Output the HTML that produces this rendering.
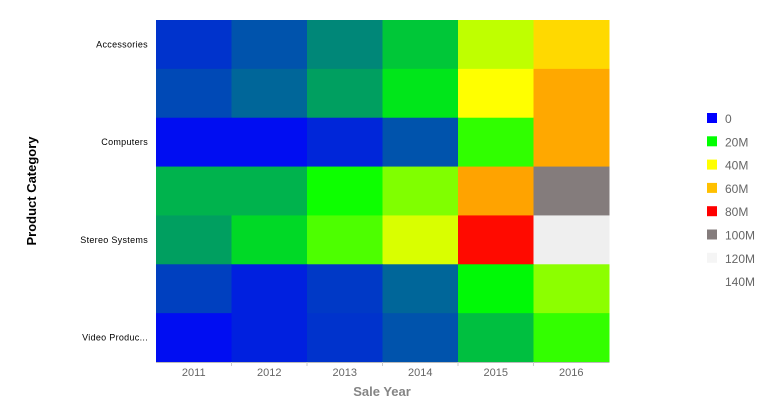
<!DOCTYPE html>
<html><head><meta charset="utf-8"><style>
body{margin:0;background:#fff;}
svg{display:block;font-family:"Liberation Sans",sans-serif;}
</style></head><body>
<svg id="chart" width="768" height="403" viewBox="0 0 768 403">
<g id="cells"></g>
<g id="xaxis"></g>
<g id="yaxis"></g>
<text x="382" y="396" text-anchor="middle" font-size="13" font-weight="bold" fill="#858585">Sale Year</text>
<text transform="translate(36,191) rotate(-90)" text-anchor="middle" font-size="13" font-weight="bold" fill="#000">Product Category</text>
<g id="legend"></g>
</svg>
<script>
const years = ["2011","2012","2013","2014","2015","2016"];
const categories = ["Accessories","Camcorders","Computers","Media Players","Stereo Systems","Televisions","Video Production"];
const categoryLabels = ["Accessories","","Computers","","Stereo Systems","","Video Produc..."];
const rowAccessories = [4, 6.5, 10.6, 15.6, 35, 52];
const rowCamcorders = [5.7, 8, 12.5, 18, 40, 62.5];
const rowComputers = [1, 1, 3, 6.5, 23.8, 62.5];
const rowMedia = [14, 14, 21, 30, 63, 100];
const rowStereo = [12.5, 17, 26, 37, 79, 119];
const rowTV = [5, 2.5, 4.5, 8, 19.5, 31];
const rowVideo = [1, 2.5, 4, 6.5, 15, 24];
const legendLabels = ["0","20M","40M","60M","80M","100M","120M","140M"];
const stopValues = [0,20,40,60,80,100,120,140];
const stopColors = [[0,0,255],[0,255,0],[255,255,0],[255,192,0],[255,0,0],[132,124,124],[245,245,245],[255,255,255]];
const values = [rowAccessories,rowCamcorders,rowComputers,rowMedia,rowStereo,rowTV,rowVideo];

const NS="http://www.w3.org/2000/svg";
const x0=156,x1=609,y0=20,y1=362;
const cw=(x1-x0)/years.length, rh=(y1-y0)/categories.length;
const xPos=i=>x0+i*cw, yPos=j=>y0+j*rh;
function color(v){
  for(let k=0;k<stopValues.length-1;k++){
    if(v<=stopValues[k+1]){
      const t=(v-stopValues[k])/(stopValues[k+1]-stopValues[k]);
      const a=stopColors[k],b=stopColors[k+1];
      return `rgb(${a.map((c,i)=>Math.round(c+(b[i]-c)*t)).join(',')})`;
    }
  }
  return "rgb(255,255,255)";
}
function mk(tag,attrs,parent){const e=document.createElementNS(NS,tag);for(const k in attrs)e.setAttribute(k,attrs[k]);parent.appendChild(e);return e;}
const cells=document.getElementById('cells');
values.forEach((row,j)=>row.forEach((v,i)=>{
  const r=mk('rect',{x:xPos(i),y:yPos(j),width:cw+0.5,height:rh+0.5,fill:color(v)},cells);
  
  
}));
const xa=document.getElementById('xaxis');
const al=mk('line',{x1:x0,x2:x1,y1:y1+0.5,y2:y1+0.5,stroke:'#bbb'},xa);


years.forEach((y,i)=>{
  const t=mk('text',{x:xPos(i)+cw/2,y:376,'text-anchor':'middle','font-size':11,fill:'#666'},xa);
  t.textContent=y;
  
  
  if(i>0){const tk=mk('line',{x1:xPos(i),x2:xPos(i),y1:y1,y2:y1+4,stroke:'#ccc'},xa);
  
  }
});
const ya=document.getElementById('yaxis');
categoryLabels.forEach((c,j)=>{
  if(!c)return;
  const t=mk('text',{x:148,y:yPos(j)+rh/2+3,'text-anchor':'end','font-size':9,fill:'#000','letter-spacing':'0.3'},ya);
  t.textContent=c;
  
  
});
const lg=document.getElementById('legend');
legendLabels.forEach((l,i)=>{
  const y=113+i*23.3;
  const sw=mk('rect',{x:707,y:y,width:10,height:10,fill:color(stopValues[i])},lg);
  
  
  const t=mk('text',{x:725,y:y+10,'font-size':12,fill:'#666'},lg);
  t.textContent=l;
  
  
});
</script>
</body></html>
